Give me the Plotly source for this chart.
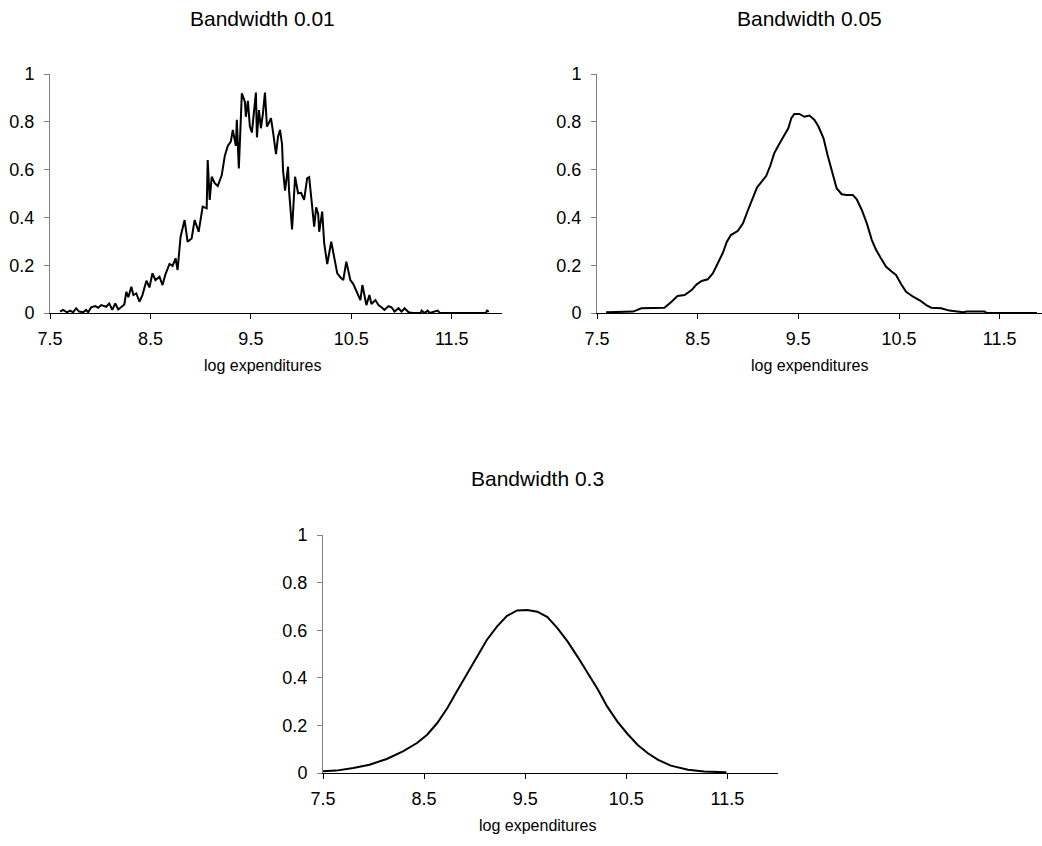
import plotly.graph_objects as go

# ---- data ----
x_bw001 = [7.60, 7.63, 7.67, 7.70, 7.73, 7.76, 7.79, 7.83, 7.86, 7.88, 7.91, 7.95, 7.98, 8.01, 8.06,
           8.09, 8.12, 8.15, 8.18, 8.21, 8.24, 8.26, 8.28, 8.31, 8.33, 8.36, 8.39, 8.42, 8.46, 8.49,
           8.52, 8.55, 8.59, 8.62, 8.65, 8.69, 8.72, 8.75, 8.77, 8.80, 8.84, 8.87, 8.91, 8.94, 8.98,
           9.02, 9.06, 9.07, 9.09, 9.11, 9.14, 9.17, 9.21, 9.24, 9.27, 9.30, 9.32, 9.35, 9.36, 9.38,
           9.39, 9.41, 9.44, 9.45, 9.47, 9.49, 9.51, 9.55, 9.56, 9.58, 9.60, 9.62, 9.64, 9.66, 9.68,
           9.70, 9.72, 9.75, 9.77, 9.79, 9.81, 9.82, 9.84, 9.87, 9.88, 9.91, 9.94, 9.97, 10.00, 10.03,
           10.06, 10.08, 10.10, 10.13, 10.15, 10.17, 10.18, 10.21, 10.23, 10.26, 10.30, 10.33, 10.36,
           10.40, 10.42, 10.45, 10.49, 10.52, 10.55, 10.59, 10.61, 10.65, 10.68, 10.70, 10.74, 10.77,
           10.80, 10.83, 10.87, 10.90, 10.93, 10.97, 11.00, 11.03, 11.07, 11.11, 11.19, 11.20, 11.23,
           11.26, 11.28, 11.36, 11.38, 11.84, 11.85, 11.87]
y_bw001 = [0.006, 0.013, 0.003, 0.010, 0.003, 0.020, 0.006, 0.003, 0.013, 0.003, 0.024, 0.029, 0.022,
           0.033, 0.026, 0.040, 0.013, 0.040, 0.015, 0.026, 0.036, 0.089, 0.066, 0.110, 0.075, 0.082,
           0.047, 0.075, 0.135, 0.107, 0.166, 0.138, 0.152, 0.117, 0.163, 0.205, 0.197, 0.229, 0.180,
           0.319, 0.389, 0.298, 0.312, 0.389, 0.340, 0.445, 0.438, 0.640, 0.473, 0.570, 0.543, 0.531,
           0.577, 0.657, 0.699, 0.717, 0.766, 0.699, 0.808, 0.605, 0.724, 0.919, 0.884, 0.821, 0.888,
           0.780, 0.755, 0.922, 0.735, 0.849, 0.773, 0.835, 0.922, 0.780, 0.796, 0.815, 0.759, 0.665,
           0.738, 0.766, 0.707, 0.598, 0.512, 0.612, 0.512, 0.350, 0.570, 0.501, 0.503, 0.473, 0.563,
           0.568, 0.487, 0.361, 0.442, 0.414, 0.340, 0.424, 0.291, 0.205, 0.298, 0.225, 0.166, 0.145,
           0.138, 0.215, 0.138, 0.121, 0.089, 0.054, 0.117, 0.033, 0.075, 0.038, 0.054, 0.033, 0.024,
           0.013, 0.029, 0.024, 0.006, 0.020, 0.006, 0.020, 0.003, 0.0, 0.0, 0.010, 0.0, 0.010, 0.0,
           0.010, 0.0, 0.0, 0.010, 0.006]

x_bw005 = [7.59, 7.72, 7.86, 7.94, 8.06, 8.17, 8.24, 8.30, 8.37, 8.44, 8.49, 8.54, 8.60, 8.65, 8.70,
           8.75, 8.79, 8.83, 8.90, 8.95, 9.00, 9.05, 9.09, 9.13, 9.18, 9.22, 9.26, 9.31, 9.36, 9.40,
           9.43, 9.46, 9.51, 9.56, 9.61, 9.66, 9.70, 9.75, 9.79, 9.84, 9.88, 9.93, 9.98, 10.04, 10.08,
           10.13, 10.18, 10.23, 10.27, 10.32, 10.37, 10.42, 10.47, 10.52, 10.57, 10.64, 10.71, 10.77,
           10.82, 10.92, 11.00, 11.14, 11.17, 11.35, 11.37, 11.87]
y_bw005 = [0.003, 0.003, 0.006, 0.020, 0.020, 0.022, 0.047, 0.071, 0.075, 0.096, 0.120, 0.134, 0.141,
           0.166, 0.208, 0.252, 0.298, 0.326, 0.344, 0.375, 0.431, 0.487, 0.526, 0.547, 0.573, 0.615,
           0.668, 0.707, 0.741, 0.773, 0.815, 0.833, 0.833, 0.821, 0.826, 0.808, 0.780, 0.731, 0.661,
           0.584, 0.522, 0.497, 0.494, 0.494, 0.476, 0.431, 0.375, 0.305, 0.266, 0.229, 0.194, 0.176,
           0.159, 0.121, 0.089, 0.068, 0.052, 0.033, 0.022, 0.020, 0.010, 0.003, 0.006, 0.006, 0.0, 0.0]

x_bw03 = [7.50, 7.63, 7.80, 7.96, 8.13, 8.29, 8.43, 8.53, 8.63, 8.73, 8.82, 8.92, 9.02, 9.12, 9.22,
          9.32, 9.42, 9.52, 9.62, 9.72, 9.82, 9.92, 10.02, 10.12, 10.22, 10.31, 10.41, 10.51, 10.61,
          10.71, 10.81, 10.94, 11.11, 11.27, 11.49]
y_bw03 = [0.007, 0.010, 0.021, 0.035, 0.059, 0.091, 0.126, 0.161, 0.210, 0.273, 0.340, 0.413, 0.490,
          0.559, 0.615, 0.660, 0.683, 0.685, 0.678, 0.655, 0.608, 0.552, 0.487, 0.420, 0.350, 0.280,
          0.217, 0.165, 0.119, 0.084, 0.056, 0.031, 0.014, 0.006, 0.003]

titles = ["Bandwidth 0.01", "Bandwidth 0.05", "Bandwidth 0.3"]
x_label = "log expenditures"
x_ticks = [7.5, 8.5, 9.5, 10.5, 11.5]
x_ticktext = ["7.5", "8.5", "9.5", "10.5", "11.5"]
y_ticks = [0, 0.2, 0.4, 0.6, 0.8, 1.0]
y_ticktext = ["0", "0.2", "0.4", "0.6", "0.8", "1"]

W, H = 1042, 846
FONT = "Liberation Sans, Arial, sans-serif"

def px(x):
    return x / W

def py(y):
    return 1 - y / H

fig = go.Figure()
series = [(x_bw001, y_bw001), (x_bw005, y_bw005), (x_bw03, y_bw03)]
for i, (xs, ys) in enumerate(series):
    sfx = "" if i == 0 else str(i + 1)
    fig.add_trace(go.Scatter(x=xs, y=ys, mode="lines", line=dict(color="black", width=2),
                             xaxis="x" + sfx, yaxis="y" + sfx, showlegend=False, hoverinfo="skip"))

# panel geometry (pixels): x-start, x-end, y-top, y-bottom, x-range-end
panels = [(50, 502, 74, 313, 12.0), (597, 1042, 74, 313, 11.92), (323, 778, 535, 773, 12.0)]
layout = {}
for i, (x0, x1, yt, yb, xr) in enumerate(panels):
    sfx = "" if i == 0 else str(i + 1)
    layout["xaxis" + sfx] = dict(domain=[px(x0), px(x1)], anchor="y" + sfx, range=[7.5, xr],
                                 tickvals=x_ticks, ticktext=x_ticktext, ticks="outside", ticklen=5,
                                 tickcolor="black", showline=True, linecolor="black", linewidth=1,
                                 showgrid=False, zeroline=False, automargin=False,
                                 ticklabelstandoff=4,
                                 tickfont=dict(family=FONT, size=18, color="black"))
    layout["yaxis" + sfx] = dict(domain=[py(yb), py(yt)], anchor="x" + sfx, range=[0, 1],
                                 tickvals=y_ticks, ticktext=y_ticktext, ticks="outside", ticklen=5,
                                 tickcolor="#808080", showline=True, linecolor="#808080", linewidth=1,
                                 showgrid=False, zeroline=False, automargin=False,
                                 ticklabelstandoff=6,
                                 tickfont=dict(family=FONT, size=18, color="black"))

fig.update_layout(**layout)

ann_pos_title = [(262, 18), (809, 18), (537, 478)]
ann_pos_label = [(262, 365), (809, 365), (537, 825)]
annotations = []
for t, (ax, ay) in zip(titles, ann_pos_title):
    annotations.append(dict(text=t, x=px(ax), y=py(ay), xref="paper", yref="paper",
                            xanchor="center", yanchor="middle", showarrow=False,
                            font=dict(family=FONT, size=21, color="black")))
for (ax, ay) in ann_pos_label:
    annotations.append(dict(text=x_label, x=px(ax), y=py(ay), xref="paper", yref="paper",
                            xanchor="center", yanchor="middle", showarrow=False,
                            font=dict(family=FONT, size=16, color="black")))

fig.update_layout(width=W, height=H, margin=dict(l=0, r=0, t=0, b=0, autoexpand=False),
                  paper_bgcolor="white", plot_bgcolor="white", annotations=annotations,
                  font=dict(family=FONT, color="black"))

fig.write_html("out.html")
